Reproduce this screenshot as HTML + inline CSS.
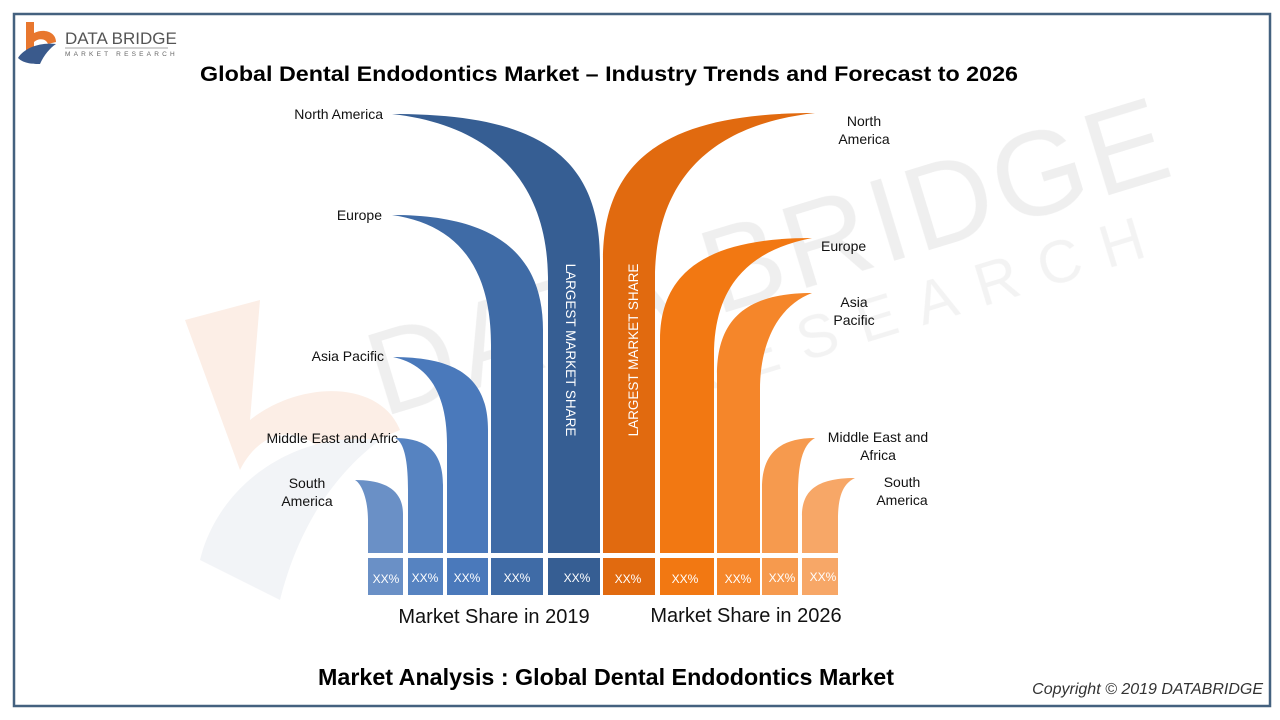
<!DOCTYPE html>
<html><head><meta charset="utf-8"><style>
html,body{margin:0;padding:0;background:#fff;}
svg{display:block;font-family:"Liberation Sans",sans-serif;}
</style></head><body>
<svg width="1280" height="720" viewBox="0 0 1280 720" xmlns="http://www.w3.org/2000/svg">
<rect x="0" y="0" width="1280" height="720" fill="#fff"/>
<rect x="14" y="14" width="1256" height="692" fill="none" stroke="#44617f" stroke-width="2.5"/>
<!-- watermark -->
<g opacity="0.4">
<g transform="rotate(-17 760 260)">
<text x="770" y="300" font-size="120" fill="#d8d8d8" text-anchor="middle" letter-spacing="4">DATA BRIDGE</text>
<text x="900" y="370" font-size="60" fill="#e2e2e2" text-anchor="middle" letter-spacing="22">RESEARCH</text>
</g>
<path d="M185 320 L260 300 L250 420 C300 380 380 380 400 430 L330 460 C300 420 260 430 240 470 Z" fill="#f7d5c0"/>
<path d="M200 560 C220 480 300 430 380 440 C340 470 300 520 280 600 Z" fill="#dfe3ea"/>
</g>
<!-- logo -->
<path d="M26 22 L34 22 L34 33 C44 28 56 32 56 42 L48 44 C46 38 38 38 34 42 L34 50 L26 52 Z" fill="#e8772e"/>
<path d="M18 58 C24 48 40 42 56 44 C50 48 44 55 40 64 C34 64 24 64 18 58 Z" fill="#3a5a8c"/>
<text x="65" y="44" font-size="17" fill="#555">DATA BRIDGE</text>
<line x1="65" y1="48" x2="168" y2="48" stroke="#888" stroke-width="0.8"/>
<text x="65" y="56" font-size="6.5" fill="#666" letter-spacing="3.2">MARKET RESEARCH</text>
<!-- title -->
<text x="609" y="81" font-size="21" font-weight="bold" text-anchor="middle" fill="#000" textLength="818" lengthAdjust="spacingAndGlyphs">Global Dental Endodontics Market  – Industry Trends and Forecast to 2026</text>
<!-- blue columns -->
<g>
<path d="M355 480 C385 480 403 490 403 514 L403 553 L368 553 L368 520 C368 500 362 484 355 480 Z" fill="#6a90c6"/>
<path d="M395 438 C430 438 443 455 443 485 L443 553 L408 553 L408 490 C408 460 404 442 395 438 Z" fill="#5683c1"/>
<path d="M393 357 C460 357 488 380 488 430 L488 553 L447 553 L447 445 C447 395 430 365 393 357 Z" fill="#4a79bb"/>
<path d="M392 215 C490 215 543 250 543 330 L543 553 L491 553 L491 345 C491 270 460 225 392 215 Z" fill="#3f6ba6"/>
<path d="M392 114 C530 114 600 150 600 260 L600 553 L548 553 L548 280 C548 180 490 125 392 114 Z" fill="#365e93"/>
</g>
<!-- orange columns -->
<g>
<path d="M815 113 C680 113 603 150 603 260 L603 553 L655 553 L655 280 C655 180 710 125 815 113 Z" fill="#e16a0f"/>
<path d="M812 238 C710 238 660 270 660 340 L660 553 L714 553 L714 355 C714 285 750 250 812 238 Z" fill="#f27812"/>
<path d="M812 293 C740 293 717 325 717 375 L717 553 L760 553 L760 390 C760 340 780 305 812 293 Z" fill="#f5862a"/>
<path d="M815 438 C775 438 762 458 762 488 L762 553 L798 553 L798 495 C798 465 802 445 815 438 Z" fill="#f69a4e"/>
<path d="M855 478 C815 478 802 492 802 516 L802 553 L838 553 L838 520 C838 498 842 484 855 478 Z" fill="#f7a767"/>
</g>
<!-- bottom boxes -->
<g font-size="12" fill="#fff" text-anchor="middle">
<rect x="368" y="558" width="35" height="37" fill="#6a90c6"/><text x="386" y="583">XX%</text>
<rect x="408" y="558" width="35" height="37" fill="#5683c1"/><text x="425" y="582">XX%</text>
<rect x="447" y="558" width="41" height="37" fill="#4a79bb"/><text x="467" y="582">XX%</text>
<rect x="491" y="558" width="52" height="37" fill="#3f6ba6"/><text x="517" y="582">XX%</text>
<rect x="548" y="558" width="52" height="37" fill="#365e93"/><text x="577" y="582">XX%</text>
<rect x="603" y="558" width="52" height="37" fill="#e16a0f"/><text x="628" y="583">XX%</text>
<rect x="660" y="558" width="54" height="37" fill="#f27812"/><text x="685" y="583">XX%</text>
<rect x="717" y="558" width="43" height="37" fill="#f5862a"/><text x="738" y="583">XX%</text>
<rect x="762" y="558" width="36" height="37" fill="#f69a4e"/><text x="782" y="582">XX%</text>
<rect x="802" y="558" width="36" height="37" fill="#f7a767"/><text x="823" y="581">XX%</text>
</g>
<!-- vertical texts -->
<text transform="translate(566 350) rotate(90)" font-size="13.5" fill="#fff" text-anchor="middle">LARGEST MARKET SHARE</text>
<text transform="translate(638 350) rotate(-90)" font-size="13.5" fill="#fff" text-anchor="middle">LARGEST MARKET SHARE</text>
<!-- labels -->
<g font-size="14" fill="#111">
<text x="383" y="119" text-anchor="end">North America</text>
<text x="382" y="220" text-anchor="end">Europe</text>
<text x="384" y="361" text-anchor="end">Asia Pacific</text>
<text x="398" y="443" text-anchor="end">Middle East and Afric</text>
<text x="307" y="488" text-anchor="middle">South</text>
<text x="307" y="506" text-anchor="middle">America</text>
<text x="864" y="126" text-anchor="middle">North</text>
<text x="864" y="144" text-anchor="middle">America</text>
<text x="821" y="251">Europe</text>
<text x="854" y="307" text-anchor="middle">Asia</text>
<text x="854" y="325" text-anchor="middle">Pacific</text>
<text x="878" y="442" text-anchor="middle">Middle East and</text>
<text x="878" y="460" text-anchor="middle">Africa</text>
<text x="902" y="487" text-anchor="middle">South</text>
<text x="902" y="505" text-anchor="middle">America</text>
</g>
<text x="494" y="623" font-size="20" text-anchor="middle" fill="#111">Market Share in 2019</text>
<text x="746" y="622" font-size="20" text-anchor="middle" fill="#111">Market Share in 2026</text>
<text x="606" y="685" font-size="23" font-weight="bold" text-anchor="middle" fill="#000" textLength="576" lengthAdjust="spacingAndGlyphs">Market Analysis : Global Dental Endodontics Market</text>
<text x="1263" y="694" font-size="16" font-style="italic" text-anchor="end" fill="#333">Copyright © 2019 DATABRIDGE</text>
</svg>
</body></html>
